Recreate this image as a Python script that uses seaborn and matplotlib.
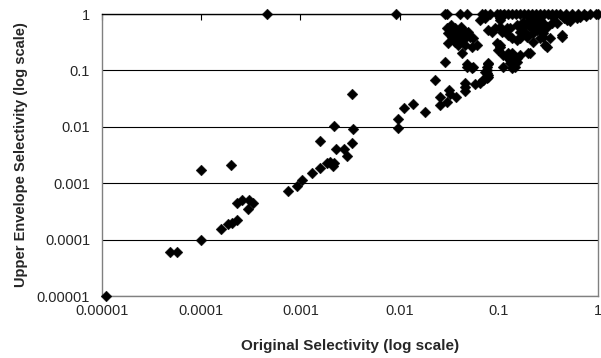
"""Upper envelope vs original selectivity, log-log scatter (Excel-style)."""

import matplotlib

matplotlib.use("Agg")
import matplotlib.pyplot as plt  # noqa: E402
import pandas as pd  # noqa: E402
import seaborn as sns  # noqa: E402

# values
low_x = [1.1e-5, 4.8e-5, 5.7e-5, 1e-4, 1e-4, 2.0e-4, 1.57e-4, 1.88e-4, 2.06e-4,
         2.28e-4, 2.28e-4, 2.56e-4, 3.03e-4, 3.35e-4, 2.96e-4, 7.5e-4, 9.2e-4,
         1.04e-3, 1.32e-3, 1.58e-3, 1.58e-3, 1.87e-3, 1.99e-3, 2.2e-3, 2.11e-3,
         2.29e-3, 2.2e-3, 2.77e-3, 2.93e-3, 3.31e-3, 3.36e-3, 3.31e-3, 9.6e-3,
         9.6e-3, 1.11e-2, 1.36e-2, 1.8e-2, 2.28e-2, 2.55e-2, 2.55e-2, 2.98e-2,
         3.17e-2, 3.22e-2, 3.7e-2, 4.56e-2, 4.56e-2, 4.56e-2, 5.75e-2, 6.46e-2,
         6.98e-2, 7.55e-2, 7.84e-2, 7.55e-2, 7.84e-2, 4.74e-2, 5.53e-2, 2.87e-2]
low_y = [1e-5, 6e-5, 6e-5, 1.7e-3, 1e-4, 2.1e-3, 1.56e-4, 1.9e-4, 2.0e-4,
         2.23e-4, 4.4e-4, 5.0e-4, 5.0e-4, 4.4e-4, 3.44e-4, 7.4e-4, 8.9e-4,
         1.14e-3, 1.54e-3, 1.84e-3, 5.7e-3, 2.25e-3, 2.4e-3, 2.32e-3, 2.02e-3,
         4.0e-3, 1.05e-2, 4.0e-3, 3.04e-3, 5.2e-3, 9.3e-3, 3.75e-2, 1.37e-2,
         9.6e-3, 2.18e-2, 2.54e-2, 1.85e-2, 6.8e-2, 3.42e-2, 2.44e-2, 2.79e-2,
         4.5e-2, 3.77e-2, 3.42e-2, 5.9e-2, 5.15e-2, 4.37e-2, 5.74e-2, 6.05e-2,
         6.76e-2, 7.23e-2, 8.28e-2, 0.1016, 0.13, 0.13, 0.1135, 0.143]

cluster_x = [0.0298, 0.0322, 0.0348, 0.0310, 0.0335, 0.0377, 0.0406, 0.0439,
             0.0475, 0.0513, 0.0553, 0.0361, 0.0310, 0.0391, 0.0423, 0.0456,
             0.0533, 0.0599, 0.0423, 0.0475, 0.0533,
             0.0330, 0.0360, 0.0385, 0.0420, 0.0450, 0.0490, 0.0345, 0.0400,
             0.0646, 0.0726, 0.1028, 0.111, 0.107, 0.120, 0.125, 0.135, 0.0784,
             0.0848, 0.0915, 0.0952, 0.1028, 0.0989, 0.111, 0.125, 0.130, 0.151,
             0.0755, 0.0784, 0.0726, 0.135, 0.146, 0.0755, 0.0698, 0.0784,
             0.111, 0.130,
             0.1028, 0.1028, 0.1028, 0.120, 0.135, 0.151, 0.164, 0.199, 0.130,
             0.164, 0.184, 0.206, 0.191, 0.223, 0.241, 0.260, 0.281, 0.304,
             0.341, 0.292, 0.431, 0.483, 0.659, 0.151, 0.223, 0.260,
             0.151, 0.177, 0.206, 0.241, 0.281, 0.260, 0.223, 0.191, 0.164,
             0.281, 0.328, 0.431, 0.304, 0.206, 0.140, 0.130,
             0.35, 0.45, 0.55, 0.75, 0.39, 0.52, 0.62,
             0.170, 0.200, 0.230, 0.250, 0.180, 0.215]
cluster_y = [0.558, 0.596, 0.520, 0.455, 0.396, 0.485, 0.425, 0.520,
             0.455, 0.396, 0.371, 0.323, 0.302, 0.282, 0.346, 0.282,
             0.263, 0.282, 0.201, 0.116, 0.109,
             0.640, 0.560, 0.440, 0.600, 0.360, 0.480, 0.360, 0.300,
             0.783, 0.839, 0.839, 0.96, 0.485, 0.558, 0.425, 0.371, 0.520,
             0.485, 0.558, 0.302, 0.263, 0.230, 0.188, 0.201, 0.164, 0.143,
             0.116, 0.134, 0.0948, 0.109, 0.116, 0.0889, 0.0676, 0.0773,
             0.116, 0.134,
             0.282, 0.596, 0.783, 0.175, 0.201, 0.164, 0.188, 0.201, 0.558,
             0.485, 0.638, 0.783, 0.425, 0.638, 0.520, 0.783, 0.455, 0.596,
             0.684, 0.282, 0.425, 0.783, 0.896, 0.346, 0.323, 0.371,
             0.638, 0.730, 0.839, 0.783, 0.684, 0.520, 0.455, 0.396, 0.371,
             0.396, 0.371, 0.396, 0.263, 0.201, 0.188, 0.153,
             0.88, 0.86, 0.9, 0.92, 0.7, 0.75, 0.85,
             0.560, 0.620, 0.700, 0.640, 0.480, 0.560]

top_x = [4.57e-4, 9.2e-3, 0.0287, 0.0301, 0.0406, 0.0475, 0.0677, 0.0726,
         0.0815, 0.0959, 0.1028, 0.1128, 0.124, 0.136, 0.149, 0.164, 0.179,
         0.197, 0.216, 0.237, 0.260, 0.286, 0.313, 0.344, 0.378, 0.414,
         0.476, 0.547, 0.629, 0.723, 0.830, 0.955, 1.0]
top_y = [1.0] * len(top_x)

tick_vals = [1e-5, 1e-4, 1e-3, 1e-2, 1e-1, 1]
tick_labels = ["0.00001", "0.0001", "0.001", "0.01", "0.1", "1"]

df = pd.DataFrame({
    "orig": low_x + cluster_x + top_x,
    "upper": low_y + cluster_y + top_y,
})

sns.set_style("white")
plt.rcParams["font.family"] = ["Liberation Sans", "DejaVu Sans"]

fig = plt.figure(figsize=(6.01, 3.58), dpi=100)
ax = fig.add_axes([102 / 601, 62 / 358, 496 / 601, 282 / 358])

sns.scatterplot(data=df, x="orig", y="upper", ax=ax, marker="D", s=30,
                color="black", edgecolor="black", linewidth=0.3, zorder=3,
                clip_on=False)

ax.set_xscale("log")
ax.set_yscale("log")
ax.set_xlim(1e-5, 1)
ax.set_ylim(1e-5, 1)
ax.set_xticks(tick_vals, tick_labels)
ax.set_yticks(tick_vals, tick_labels)
ax.minorticks_off()

# Excel puts the category axis at the top edge: ticks up there, labels below
ax.tick_params(axis="x", top=True, bottom=False, labeltop=False,
               labelbottom=True, direction="in", length=4, width=0.8,
               color="black", labelsize=10.5, pad=6)
ax.tick_params(axis="y", left=False, labelsize=10.5, pad=5)

ax.grid(axis="y", color="black", linewidth=0.8)
ax.grid(axis="x", visible=False)
for name, sp in ax.spines.items():
    sp.set_color("#808080")
    sp.set_linewidth(1.0)
ax.spines["top"].set_color("black")

ax.set_xlabel("Original Selectivity (log scale)", fontsize=11,
              fontweight="bold", labelpad=15)
ax.set_ylabel("Upper Envelope Selectivity (log scale)", fontsize=10.5,
              fontweight="bold", labelpad=6)

fig.savefig("out.png", dpi=100)
plt.close(fig)
